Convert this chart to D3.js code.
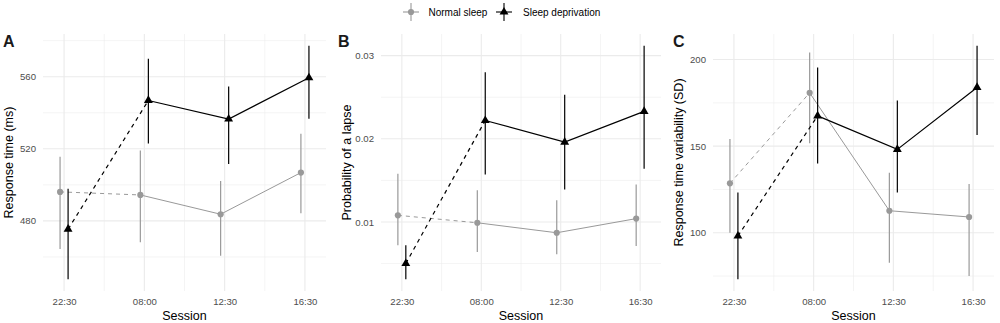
<!DOCTYPE html>
<html>
<head>
<meta charset="utf-8">
<script src="https://cdn.jsdelivr.net/npm/d3@7"></script>
<style>
  html, body { margin: 0; padding: 0; background: #fff; }
  svg { display: block; font-family: "Liberation Sans", Arial, sans-serif; }
</style>
</head>
<body>
<svg id="chart" width="1000" height="323"></svg>
<script>
// ---------------- data ----------------
const sessions = ["22:30", "08:00", "12:30", "16:30"];
const groups = ["Normal sleep", "Sleep deprivation"];

// Panel A: Response time (ms)
const rtNormal     = [496.1, 494.4, 483.7, 506.8];
const rtNormalLow  = [464.4, 468.2, 460.7, 484.3];
const rtNormalHigh = [515.6, 519.0, 502.2, 528.3];
const rtDep        = [475.4, 546.8, 536.5, 559.4];
const rtDepLow     = [447.6, 522.9, 511.5, 536.7];
const rtDepHigh    = [497.8, 570.0, 554.6, 577.2];
const rtTicks      = [480, 520, 560];
const rtMinor      = [460, 500, 540, 580];

// Panel B: Probability of a lapse
const lapseNormal     = [0.0108, 0.0099, 0.0087, 0.0104];
const lapseNormalLow  = [0.0072, 0.0064, 0.0061, 0.0071];
const lapseNormalHigh = [0.0158, 0.0138, 0.0126, 0.0145];
const lapseDep        = [0.0050, 0.0222, 0.0196, 0.0233];
const lapseDepLow     = [0.0031, 0.0157, 0.0139, 0.0164];
const lapseDepHigh    = [0.0072, 0.0280, 0.0253, 0.0312];
const lapseTicks      = [0.01, 0.02, 0.03];
const lapseMinor      = [0.005, 0.015, 0.025];

// Panel C: Response time variability (SD)
const sdNormal     = [128.5, 180.8, 112.7, 109.1];
const sdNormalLow  = [100.0, 151.6, 82.7, 75.0];
const sdNormalHigh = [154.1, 204.1, 134.6, 128.1];
const sdDep        = [98.1, 167.5, 148.1, 183.9];
const sdDepLow     = [73.1, 140.0, 123.3, 156.4];
const sdDepHigh    = [123.3, 195.4, 176.4, 208.0];
const sdTicks      = [100, 150, 200];
const sdMinor      = [75, 125, 175];

// ---------------- layout ----------------
const svg = d3.select("#chart");
const plotTop = 34, plotBottom = 291;
const colors = { "Normal sleep": "#999999", "Sleep deprivation": "#000000" };
const dodge = { "Normal sleep": -0.05, "Sleep deprivation": 0.05 };

const panels = [
  { label: "A", title: "Response time (ms)", left: 43, right: 326, labelX: 3,
    normal: [rtNormal, rtNormalLow, rtNormalHigh], dep: [rtDep, rtDepLow, rtDepHigh],
    ticks: rtTicks, minor: rtMinor, fmt: d => d3.format("d")(d) },
  { label: "B", title: "Probability of a lapse", left: 381, right: 661, labelX: 338,
    normal: [lapseNormal, lapseNormalLow, lapseNormalHigh], dep: [lapseDep, lapseDepLow, lapseDepHigh],
    ticks: lapseTicks, minor: lapseMinor, fmt: d => d3.format(".2f")(d) },
  { label: "C", title: "Response time variability (SD)", left: 713, right: 994, labelX: 673,
    normal: [sdNormal, sdNormalLow, sdNormalHigh], dep: [sdDep, sdDepLow, sdDepHigh],
    ticks: sdTicks, minor: sdMinor, fmt: d => d3.format("d")(d) }
];

panels.forEach(p => {
  const g = svg.append("g");
  const x = d3.scaleLinear().domain([0.7375, 4.2625]).range([p.left, p.right]);
  const allVals = p.normal[1].concat(p.normal[2], p.dep[1], p.dep[2]);
  const lo = d3.min(allVals), hi = d3.max(allVals), pad = (hi - lo) * 0.05;
  const y = d3.scaleLinear().domain([lo - pad, hi + pad]).range([plotBottom, plotTop]);

  // grid
  const grid = g.append("g");
  const xMinor = [1.5, 2.5, 3.5];
  grid.selectAll(".ymin").data(p.minor).join("line")
    .attr("x1", p.left).attr("x2", p.right)
    .attr("y1", d => y(d)).attr("y2", d => y(d))
    .attr("stroke", "#ebebeb").attr("stroke-width", 0.55);
  grid.selectAll(".xmin").data(xMinor).join("line")
    .attr("x1", d => x(d)).attr("x2", d => x(d))
    .attr("y1", plotTop).attr("y2", plotBottom)
    .attr("stroke", "#ebebeb").attr("stroke-width", 0.55);
  grid.selectAll(".ymaj").data(p.ticks).join("line")
    .attr("x1", p.left).attr("x2", p.right)
    .attr("y1", d => y(d)).attr("y2", d => y(d))
    .attr("stroke", "#ebebeb").attr("stroke-width", 1.1);
  grid.selectAll(".xmaj").data(sessions).join("line")
    .attr("x1", (d, i) => x(i + 1)).attr("x2", (d, i) => x(i + 1))
    .attr("y1", plotTop).attr("y2", plotBottom)
    .attr("stroke", "#ebebeb").attr("stroke-width", 1.1);

  // axes (no lines / ticks, labels only)
  const yAxis = g.append("g").attr("transform", `translate(${p.left},0)`)
    .call(d3.axisLeft(y).tickValues(p.ticks).tickFormat(p.fmt).tickSize(0).tickPadding(7));
  yAxis.select(".domain").remove();
  yAxis.selectAll("text").attr("fill", "#4d4d4d").style("font-size", "9.6px")
    .style("font-family", "Liberation Sans, Arial, sans-serif");

  const xAxis = g.append("g").attr("transform", `translate(0,${plotBottom})`)
    .call(d3.axisBottom(x).tickValues([1, 2, 3, 4]).tickFormat((d) => sessions[d - 1]).tickSize(0).tickPadding(7));
  xAxis.select(".domain").remove();
  xAxis.selectAll("text").attr("fill", "#4d4d4d").style("font-size", "9.6px")
    .style("font-family", "Liberation Sans, Arial, sans-serif");

  // titles
  g.append("text").attr("x", (p.left + p.right) / 2).attr("y", 320)
    .attr("text-anchor", "middle").style("font-size", "12.5px").attr("fill", "#000")
    .text("Session");
  g.append("text")
    .attr("transform", `translate(${p.left - 30},${(plotTop + plotBottom) / 2}) rotate(-90)`)
    .attr("text-anchor", "middle").style("font-size", "12.5px").attr("fill", "#000")
    .text(p.title);
  g.append("text").attr("x", p.labelX).attr("y", 46.5)
    .style("font-size", "16px").style("font-weight", "bold").attr("fill", "#1a1a1a")
    .text(p.label);

  // series
  [["Normal sleep", p.normal], ["Sleep deprivation", p.dep]].forEach(([name, arr]) => {
    const [mean, low, high] = arr;
    const col = colors[name];
    const pts = mean.map((v, i) => ({ x: i + 1 + dodge[name], v, lo: low[i], hi: high[i] }));
    const line = d3.line().x(d => x(d.x)).y(d => y(d.v));
    const lw = name === "Normal sleep" ? 1.0 : 1.2;
    g.append("path").datum(pts.slice(0, 2)).attr("d", line)
      .attr("fill", "none").attr("stroke", col).attr("stroke-width", lw)
      .attr("stroke-dasharray", "4,4");
    g.append("path").datum(pts.slice(1)).attr("d", line)
      .attr("fill", "none").attr("stroke", col).attr("stroke-width", lw);
    g.selectAll(null).data(pts).join("line")
      .attr("x1", d => x(d.x)).attr("x2", d => x(d.x))
      .attr("y1", d => y(d.lo)).attr("y2", d => y(d.hi))
      .attr("stroke", col).attr("stroke-width", 1.2);
    const sym = name === "Normal sleep" ? d3.symbol(d3.symbolCircle, 30) : d3.symbol(d3.symbolTriangle, 34);
    g.selectAll(null).data(pts).join("path")
      .attr("transform", d => `translate(${x(d.x)},${y(d.v)})`)
      .attr("d", sym).attr("fill", col);
  });
});

// ---------------- legend ----------------
const legend = svg.append("g");
const legendItems = [
  { name: groups[0], cx: 411, tx: 428.5 },
  { name: groups[1], cx: 504, tx: 523 }
];
legendItems.forEach(it => {
  const col = colors[it.name];
  legend.append("line").attr("x1", it.cx - 8).attr("x2", it.cx + 8)
    .attr("y1", 12).attr("y2", 12).attr("stroke", col).attr("stroke-width", 1.1);
  legend.append("line").attr("x1", it.cx).attr("x2", it.cx)
    .attr("y1", 3).attr("y2", 21).attr("stroke", col).attr("stroke-width", 1.1);
  const sym = it.name === groups[0] ? d3.symbol(d3.symbolCircle, 30) : d3.symbol(d3.symbolTriangle, 34);
  legend.append("path").attr("transform", `translate(${it.cx},12)`).attr("d", sym).attr("fill", col);
  legend.append("text").attr("x", it.tx).attr("y", 15.5)
    .style("font-size", "10px").attr("fill", "#000").text(it.name);
});
</script>
</body>
</html>
